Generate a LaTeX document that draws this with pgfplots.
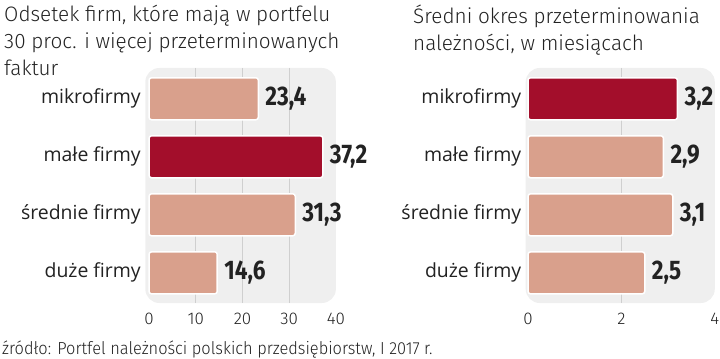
\documentclass[border=0pt]{standalone}
\usepackage{fontspec}
\setmainfont{Fira Sans}
\newfontfamily\lightfont[UprightFont={* Light}]{Fira Sans}
\newfontfamily\titlefont[UprightFont={* Light},FakeStretch=0.99]{Fira Sans}
\newfontfamily\srcfont[UprightFont={* Light},FakeStretch=0.94]{Fira Sans}
\newfontfamily\valfont[UprightFont={* Bold},FakeStretch=0.84]{Fira Sans}
\newfontfamily\labfont{Open Sans}
\newcommand\lab[1]{\labfont\fontsize{19.5}{19.5}\selectfont #1}
\usepackage{pgfplots}
\pgfplotsset{compat=1.18}
\definecolor{lightbar}{HTML}{D9A08C}
\definecolor{darkbar}{HTML}{A30E2B}
\definecolor{bggray}{HTML}{EFEFEF}
\definecolor{gridgray}{HTML}{CFCFCF}
\definecolor{txt}{HTML}{222222}
\pgfplotsset{
  panel/.style={
    scale only axis,
    height=235bp,
    ymin=-0.53, ymax=3.52,
    y dir=reverse,
    ytick={0,1,2,3},
    yticklabels={\lab{mikrofirmy}, \lab{małe firmy}, \lab{średnie firmy}, \lab{duże firmy}},
    y tick label style={text=txt, xshift=-1bp},
    x tick label style={font=\lightfont\fontsize{17}{17}\selectfont, text=txt, yshift=-7bp},
    /pgf/number format/assume math mode=true,
    axis line style={draw=none},
    major tick length=0pt,
    xmajorgrids,
    grid style={gridgray, line width=0.8bp},
    extra x tick style={grid=none},
    axis background/.style={fill=bggray, rounded corners=14bp},
    xbar, bar width=42bp, bar shift=0pt,
    every axis plot/.append style={draw=white, line width=1.5bp, rounded corners=2.5bp},
    nodes near coords,
    nodes near coords style={font=\valfont\fontsize{27}{27}\selectfont, text=txt, anchor=west, xshift=3bp,
      /pgf/number format/.cd, fixed, fixed zerofill, precision=1, use comma, assume math mode=true},
    clip=false,
  }
}
\begin{document}
\begin{tikzpicture}
\useasboundingbox (0,0) rectangle (720bp,359bp);
\node[anchor=north west, align=left, inner sep=0pt, font=\titlefont\fontsize{21}{27}\selectfont, text=txt]
  at (4bp,354bp) {Odsetek firm, które mają w portfelu\\30 proc. i więcej przeterminowanych\\faktur};
\node[anchor=north west, align=left, inner sep=0pt, font=\titlefont\fontsize{21}{27}\selectfont, text=txt]
  at (413bp,354bp) {Średni okres przeterminowania\\należności, w miesiącach};
\node[anchor=base west, inner sep=0pt, font=\srcfont\fontsize{17.5}{17.5}\selectfont, text=txt]
  at (2bp,5bp) {źródło: Portfel należności polskich przedsiębiorstw, I 2017 r.};

\begin{axis}[panel, at={(145.3bp,56bp)}, anchor=south west,
  width=190.6bp, xmin=-0.8, xmax=40,
  xtick={10,20,30}, extra x ticks={0,40}]
\addplot[fill=lightbar] coordinates {(23.4,0) (31.3,2) (14.6,3)};
\addplot[fill=darkbar] coordinates {(37.2,1)};
\end{axis}

\begin{axis}[panel, at={(525.7bp,56bp)}, anchor=south west,
  width=189.1bp, xmin=-0.05, xmax=4,
  xtick={2}, extra x ticks={0,4}]
\addplot[fill=lightbar] coordinates {(2.9,1) (3.1,2) (2.5,3)};
\addplot[fill=darkbar] coordinates {(3.2,0)};
\end{axis}
\end{tikzpicture}
\end{document}
